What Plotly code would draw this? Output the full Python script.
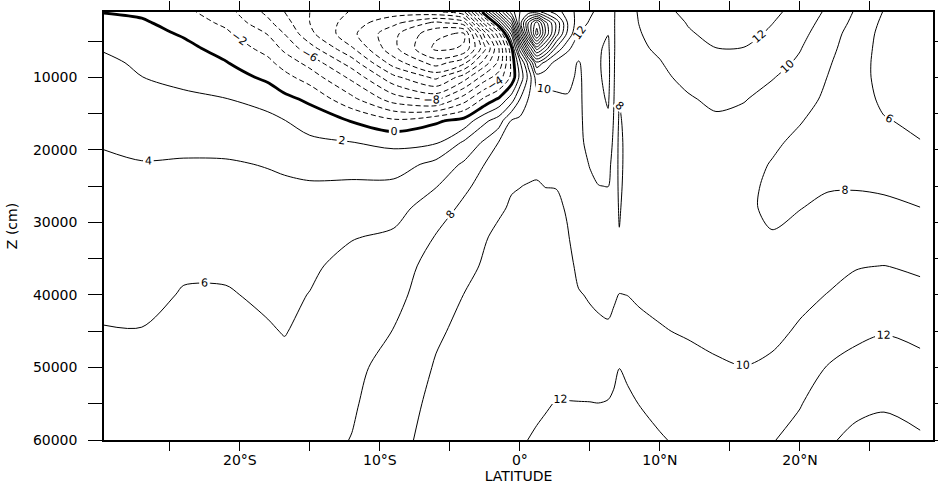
import numpy as np
import plotly.graph_objects as go

# depth levels (cm) of each profile value
depth_cm = [1000, 2500, 4000, 6000, 8000, 10000, 13000, 16000, 19000, 22000,
            25000, 28000, 32000, 36000, 40000, 45000, 50000, 55000, 60000]

# latitudes of the profiles (negative = south)
latitude = [-29.7, -27, -24, -21, -18, -16.8, -15, -12, -9, -6, -4, -2.5,
            -1.5, -0.6, 0, 0.6, 1.2, 1.8, 2.6, 3.4, 4.2, 5.0, 5.6, 6.3, 6.7,
            7.1, 7.7, 8.5, 10, 12, 14, 16, 18, 20, 22, 24, 26, 28.6]

# field values, one profile (top -> bottom) per latitude
p_s29_7 = [-0.05, 0.5, 1.0, 1.8, 2.5, 2.8, 3.1, 3.4, 3.9, 4.2, 4.4, 4.6, 4.9, 5.15, 5.5, 6.1, 6.5, 6.8, 7.0]
p_s27 = [-0.4, 0.3, 0.7, 1.2, 1.6, 2.02, 2.5, 3.0, 3.5, 4.1, 4.4, 4.6, 5.0, 5.3, 5.6, 6.05, 6.4, 6.7, 7.0]
p_s24 = [-1.5, -0.9, -0.2, 0.5, 1.0, 1.6, 2.3, 2.9, 3.5, 4.2, 4.6, 5.0, 5.4, 5.8, 6.1, 6.5, 6.8, 7.1, 7.3]
p_s21 = [-3.2, -2.4, -1.6, -0.7, 0.1, 0.9, 2.05, 2.7, 3.4, 4.2, 4.7, 5.1, 5.5, 5.8, 6.1, 6.5, 6.9, 7.2, 7.5]
p_s18 = [-6.5, -5.5, -4.1, -2.7, -1.5, -0.4, 1.3, 2.5, 3.3, 3.9, 4.4, 4.8, 5.2, 5.5, 5.8, 6.1, 6.5, 6.9, 7.3]
p_s16_8 = [-8.0, -7.2, -6.05, -4.5, -2.8, -1.4, 0.5, 2.05, 3.0, 3.7, 4.3, 4.8, 5.2, 5.45, 5.65, 5.95, 6.3, 6.7, 7.1]
p_s15 = [-10.0, -10.0, -9.5, -7.2, -4.7, -2.9, -0.4, 1.2, 2.4, 3.4, 4.2, 4.8, 5.3, 5.7, 6.05, 6.3, 6.65, 7.0, 7.4]
p_s12 = [-12.2, -13.0, -13.5, -11.8, -9.0, -6.5, -3.5, -0.1, 2.05, 3.3, 4.3, 5.0, 5.9, 6.6, 7.0, 7.3, 7.6, 7.8, 8.05]
p_s9 = [-13.0, -15.5, -17.5, -17.5, -15.0, -11.5, -7.0, -1.6, 1.6, 3.0, 4.5, 5.3, 6.3, 7.0, 7.4, 8.05, 8.6, 9.0, 9.3]
p_s6 = [-12.5, -18.5, -21.5, -22.5, -19.0, -14.5, -8.5, -0.3, 1.8, 4.6, 5.9, 7.0, 8.1, 8.8, 9.2, 9.75, 10.15, 10.5, 10.8]
p_s4 = [-10.5, -17.0, -22.3, -21.8, -16.5, -11.0, -5.0, 0.7, 4.3, 6.3, 7.6, 8.4, 9.0, 9.5, 10.02, 10.4, 10.7, 10.9, 11.0]
p_s2_5 = [1.5, -5.0, -11.0, -14.5, -11.0, -7.0, -1.5, 3.6, 6.4, 8.05, 8.7, 9.2, 9.9, 10.2, 10.5, 10.8, 11.05, 11.25, 11.4]
p_s1_5 = [10.0, 2.0, -4.5, -8.0, -7.5, -5.0, 0.3, 5.0, 8.1, 8.8, 9.3, 9.8, 10.3, 10.55, 10.8, 11.0, 11.2, 11.4, 11.5]
p_s0_6 = [17.0, 11.0, 4.5, -0.5, -1.5, -1.5, 3.0, 8.2, 8.8, 9.3, 9.9, 10.15, 10.5, 10.75, 10.95, 11.15, 11.35, 11.5, 11.6]
p_eq = [20.0, 21.0, 17.0, 9.0, 3.5, 2.5, 6.0, 8.5, 9.1, 9.5, 9.98, 10.2, 10.5, 10.8, 11.0, 11.25, 11.45, 11.6, 11.75]
p_n0_6 = [21.0, 28.0, 27.0, 18.0, 8.8, 6.5, 8.05, 8.6, 9.2, 9.7, 10.05, 10.25, 10.6, 10.85, 11.1, 11.35, 11.6, 11.85, 12.02]
p_n1_2 = [21.0, 33.0, 35.0, 25.0, 15.5, 11.0, 9.0, 8.9, 9.3, 9.75, 10.1, 10.35, 10.7, 10.95, 11.2, 11.45, 11.65, 11.85, 12.1]
p_n1_8 = [19.0, 27.0, 28.0, 21.5, 13.5, 10.8, 9.3, 9.1, 9.3, 9.6, 9.98, 10.3, 10.6, 10.9, 11.15, 11.4, 11.65, 11.9, 12.25]
p_n2_6 = [17.0, 21.5, 21.0, 15.5, 11.2, 10.6, 9.7, 9.3, 9.3, 9.5, 9.95, 10.3, 10.6, 10.9, 11.1, 11.4, 11.7, 12.05, 12.3]
p_n3_4 = [15.0, 16.0, 15.5, 12.5, 10.5, 10.3, 9.9, 9.6, 9.5, 9.5, 9.6, 9.85, 10.1, 10.4, 10.7, 11.1, 11.5, 12.05, 12.3]
p_n4_2 = [13.3, 12.8, 12.0, 10.7, 9.9, 9.8, 9.8, 9.8, 9.8, 9.6, 9.4, 9.3, 9.4, 9.7, 10.08, 10.6, 11.3, 12.05, 12.4]
p_n5_0 = [12.3, 11.8, 11.3, 10.9, 10.7, 10.6, 10.5, 10.4, 10.25, 10.05, 9.8, 9.6, 9.55, 9.7, 9.9, 10.3, 11.1, 12.05, 12.5]
p_n5_6 = [11.6, 11.6, 11.7, 11.75, 11.8, 11.7, 11.3, 10.9, 10.6, 10.3, 9.98, 9.7, 9.5, 9.6, 9.8, 10.2, 11.0, 12.02, 12.45]
p_n6_3 = [11.0, 11.5, 11.95, 12.4, 12.6, 12.6, 12.3, 11.6, 10.9, 10.4, 10.02, 9.6, 9.4, 9.5, 9.8, 10.1, 11.2, 12.1, 12.4]
p_n6_7 = [10.1, 10.1, 10.15, 10.2, 10.2, 10.2, 10.1, 9.9, 9.7, 9.5, 9.3, 9.1, 9.0, 9.2, 9.8, 10.4, 11.7, 12.2, 12.5]
p_n7_1 = [9.6, 9.5, 9.3, 9.1, 8.8, 8.5, 8.1, 7.7, 7.5, 7.5, 7.6, 7.8, 8.1, 9.0, 10.05, 11.0, 11.98, 12.6, 13.0]
p_n7_7 = [9.5, 9.5, 9.4, 9.3, 9.2, 9.1, 8.9, 8.8, 8.7, 8.7, 8.8, 8.9, 9.1, 9.5, 9.98, 10.8, 11.7, 12.3, 12.7]
p_n8_5 = [10.1, 10.02, 9.9, 9.7, 9.5, 9.3, 9.1, 8.9, 8.8, 8.8, 8.8, 8.9, 9.1, 9.4, 9.85, 10.3, 11.0, 11.98, 12.5]
p_n10 = [11.2, 10.9, 10.6, 10.3, 9.9, 9.6, 9.3, 9.1, 8.9, 8.8, 8.8, 8.9, 9.1, 9.35, 9.65, 10.1, 10.8, 11.5, 12.15]
p_n12 = [12.6, 12.1, 11.8, 11.4, 11.0, 10.5, 9.8, 9.4, 9.1, 8.9, 8.8, 8.8, 8.9, 9.1, 9.35, 9.85, 10.5, 11.1, 11.6]
p_n14 = [13.2, 12.9, 12.5, 11.98, 11.6, 11.1, 10.4, 9.7, 9.3, 9.0, 8.8, 8.7, 8.7, 8.9, 9.15, 9.6, 10.2, 10.8, 11.3]
p_n16 = [13.3, 13.0, 12.6, 11.95, 11.5, 11.0, 10.1, 9.5, 9.0, 8.6, 8.4, 8.3, 8.4, 8.6, 8.9, 9.4, 10.03, 10.6, 11.2]
p_n18 = [12.3, 12.05, 11.7, 11.2, 10.7, 10.1, 9.4, 8.9, 8.3, 7.9, 7.7, 7.7, 8.1, 8.6, 9.1, 9.6, 10.3, 11.2, 11.9]
p_n20 = [11.5, 11.0, 10.6, 10.1, 9.7, 9.3, 8.8, 8.1, 7.6, 7.4, 7.6, 7.95, 8.6, 9.1, 9.6, 10.2, 11.0, 11.9, 12.6]
p_n22 = [9.6, 9.2, 8.8, 8.5, 8.2, 7.95, 7.6, 7.3, 7.3, 7.5, 7.85, 8.4, 8.9, 9.5, 10.05, 11.0, 12.1, 13.0, 13.8]
p_n24 = [7.8, 7.5, 7.2, 7.0, 6.8, 6.7, 6.7, 6.8, 7.0, 7.4, 7.9, 8.4, 9.0, 9.9, 10.6, 11.6, 12.6, 13.6, 14.4]
p_n26 = [5.9, 5.6, 5.4, 5.3, 5.3, 5.4, 5.7, 6.1, 6.6, 7.2, 7.8, 8.3, 9.1, 10.02, 10.8, 11.9, 12.9, 13.85, 14.5]
p_n28_6 = [4.6, 4.6, 4.7, 4.8, 4.9, 5.0, 5.3, 5.7, 6.05, 6.6, 7.3, 8.02, 8.8, 9.7, 10.5, 11.5, 12.55, 13.45, 14.2]

profiles = [p_s29_7, p_s27, p_s24, p_s21, p_s18, p_s16_8, p_s15, p_s12, p_s9, p_s6,
            p_s4, p_s2_5, p_s1_5, p_s0_6, p_eq, p_n0_6, p_n1_2, p_n1_8, p_n2_6,
            p_n3_4, p_n4_2, p_n5_0, p_n5_6, p_n6_3, p_n6_7, p_n7_1, p_n7_7,
            p_n8_5, p_n10, p_n12, p_n14, p_n16, p_n18, p_n20, p_n22, p_n24,
            p_n26, p_n28_6]

x_tick_vals = [-25, -20, -15, -10, -5, 0, 5, 10, 15, 20, 25]
x_tick_text = ["", "20°S", "", "10°S", "", "0°", "", "10°N", "", "20°N", ""]
y_tick_vals = [5000, 10000, 15000, 20000, 25000, 30000, 35000, 40000, 45000, 50000, 55000, 60000]
y_tick_text = ["", "10000", "", "20000", "", "30000", "", "40000", "", "50000", "", "60000"]

zgrid = np.array(profiles).T

FONT = "DejaVu Sans"
black = [[0, "black"], [1, "black"]]
label_font = dict(family=FONT, size=11, color="black")


def contour_trace(start, end, size, width, dash, labels):
    return go.Contour(
        x=latitude, y=depth_cm, z=zgrid,
        autocontour=False,
        contours=dict(start=start, end=end, size=size, coloring="lines",
                      showlabels=labels, labelfont=label_font),
        colorscale=black, showscale=False,
        line=dict(width=width, dash=dash, smoothing=0.85),
        hoverinfo="skip",
    )


fig = go.Figure()
fig.add_trace(contour_trace(-22, -10, 2, 1, "5px,3px", False))
fig.add_trace(contour_trace(-8, -2, 2, 1, "5px,3px", True))
fig.add_trace(contour_trace(0, 0.5, 1, 2.8, "solid", True))
fig.add_trace(contour_trace(2, 12, 2, 1, "solid", True))
fig.add_trace(contour_trace(14, 40, 2, 1, "solid", False))

axis_common = dict(
    showgrid=False, zeroline=False, showline=True, linecolor="black",
    linewidth=1.5, mirror="ticks", ticks="outside", tickcolor="black",
    tickwidth=1.3, automargin=False,
    tickfont=dict(family=FONT, size=14, color="black"),
)

fig.update_layout(
    width=938, height=484,
    margin=dict(l=104, r=5, t=12, b=44),
    paper_bgcolor="white", plot_bgcolor="white",
    showlegend=False,
    xaxis=dict(range=[-29.7, 29.5], tickmode="array", tickvals=x_tick_vals,
               ticktext=x_tick_text, ticklen=9, ticklabelstandoff=-3,
               title=dict(text="LATITUDE", standoff=4,
                          font=dict(family=FONT, size=14, color="black")),
               **axis_common),
    yaxis=dict(range=[60000, 1000], tickmode="array", tickvals=y_tick_vals,
               ticktext=y_tick_text, ticklen=14, ticklabelstandoff=8,
               title=dict(text="Z (cm)", standoff=12,
                          font=dict(family=FONT, size=14, color="black")),
               **axis_common),
)

fig.write_html("out.html")
